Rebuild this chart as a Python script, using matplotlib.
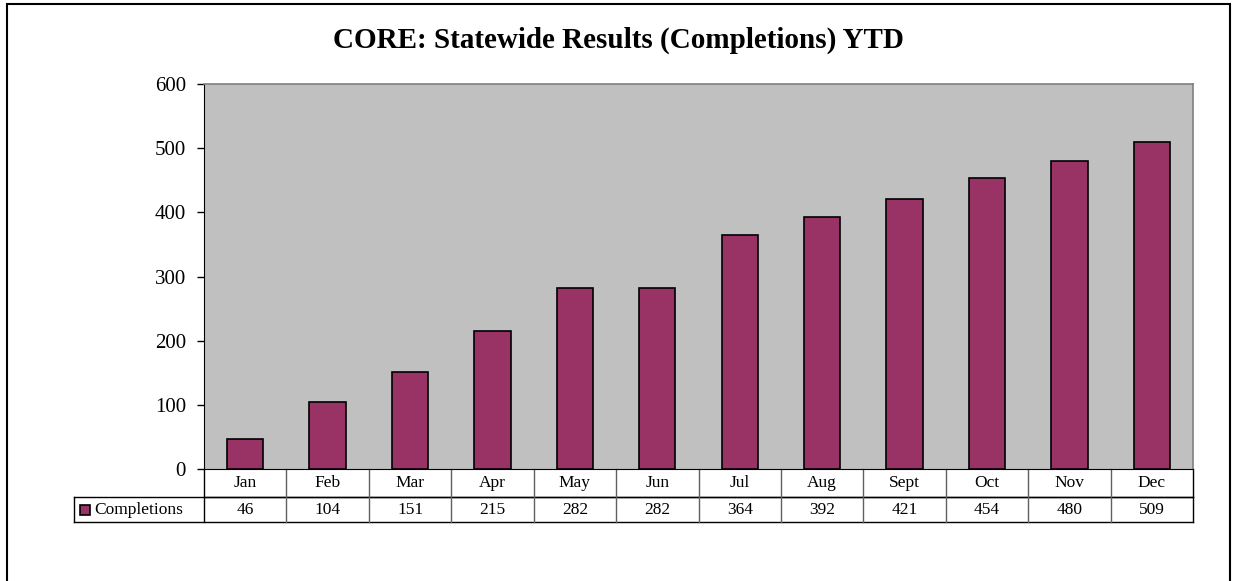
import matplotlib.pyplot as plt
from matplotlib.patches import Rectangle
from matplotlib.lines import Line2D

months = ["Jan", "Feb", "Mar", "Apr", "May", "Jun", "Jul", "Aug", "Sept", "Oct", "Nov", "Dec"]
completions = [46, 104, 151, 215, 282, 282, 364, 392, 421, 454, 480, 509]
series_name = "Completions"
title = "CORE: Statewide Results (Completions) YTD"

W, H = 1236, 581
fig = plt.figure(figsize=(W / 100, H / 100), dpi=100)
plt.rcParams['font.family'] = ['Liberation Serif', 'DejaVu Serif']

def fx(px):
    return px / W

def fy(py):
    return 1 - py / H

# outer figure border
fig.add_artist(Rectangle((fx(7), fy(590)), fx(1230) - fx(7), fy(4) - fy(590),
                         transform=fig.transFigure, fill=False, ec='black', lw=1.5))

L, R, T, B = 204, 1193, 84, 469
ax = fig.add_axes([fx(L), fy(B), fx(R) - fx(L), fy(T) - fy(B)])
ax.set_facecolor('#C0C0C0')
x = list(range(len(months)))
ax.bar(x, completions, width=0.44, color='#993366', edgecolor='black', linewidth=1.2, zorder=3)
ax.set_xlim(-0.5, len(months) - 0.5)
ax.set_ylim(0, 600)
ax.set_yticks(range(0, 601, 100))
ax.tick_params(axis='y', labelsize=15, length=5, width=1, direction='out', pad=8)
ax.tick_params(axis='x', bottom=False, labelbottom=False)
for s in ['top', 'right']:
    ax.spines[s].set_color('#808080')
    ax.spines[s].set_linewidth(1.2)
ax.spines['left'].set_color('black')
ax.spines['bottom'].set_color('black')
fig.text(fx(618), fy(40), title, fontsize=21, fontweight='bold', ha='center', va='center')

# data table
axh = B - T
axw = R - L
row1 = -28 / axh
row2 = -53 / axh
left_col = (74 - L) / axw
tr = ax.transAxes
lines = []
lines.append(Line2D([0, 1], [row1, row1], transform=tr, color='black', lw=1, clip_on=False))
lines.append(Line2D([left_col, 1], [row1, row1], transform=tr, color='black', lw=1, clip_on=False))
lines.append(Line2D([left_col, 1], [row2, row2], transform=tr, color='black', lw=1, clip_on=False))
lines.append(Line2D([left_col, left_col], [row1, row2], transform=tr, color='black', lw=1, clip_on=False))
for i in range(len(months) + 1):
    xc = i / len(months)
    col = 'black' if i in (0, len(months)) else '#606060'
    lines.append(Line2D([xc, xc], [0, row2], transform=tr, color=col, lw=1, clip_on=False))
for ln in lines:
    ax.add_artist(ln)

fs = 12.5
for i, (m, v) in enumerate(zip(months, completions)):
    xc = (i + 0.5) / len(months)
    ax.text(xc, row1 / 2, m, transform=tr, ha='center', va='center', fontsize=fs, clip_on=False)
    ax.text(xc, (row1 + row2) / 2, str(v), transform=tr, ha='center', va='center', fontsize=fs, clip_on=False)

# legend key in table
key_w = 10 / axw
key_h = 10 / axh
kx = (80 - L) / axw
ky = (row1 + row2) / 2 - key_h / 2
ax.add_artist(Rectangle((kx, ky), key_w, key_h, transform=tr, facecolor='#993366',
                        edgecolor='black', lw=1.2, clip_on=False))
ax.text((94 - L) / axw, (row1 + row2) / 2, series_name, transform=tr, ha='left', va='center',
        fontsize=fs, clip_on=False)

fig.savefig('out.png', dpi=100)
